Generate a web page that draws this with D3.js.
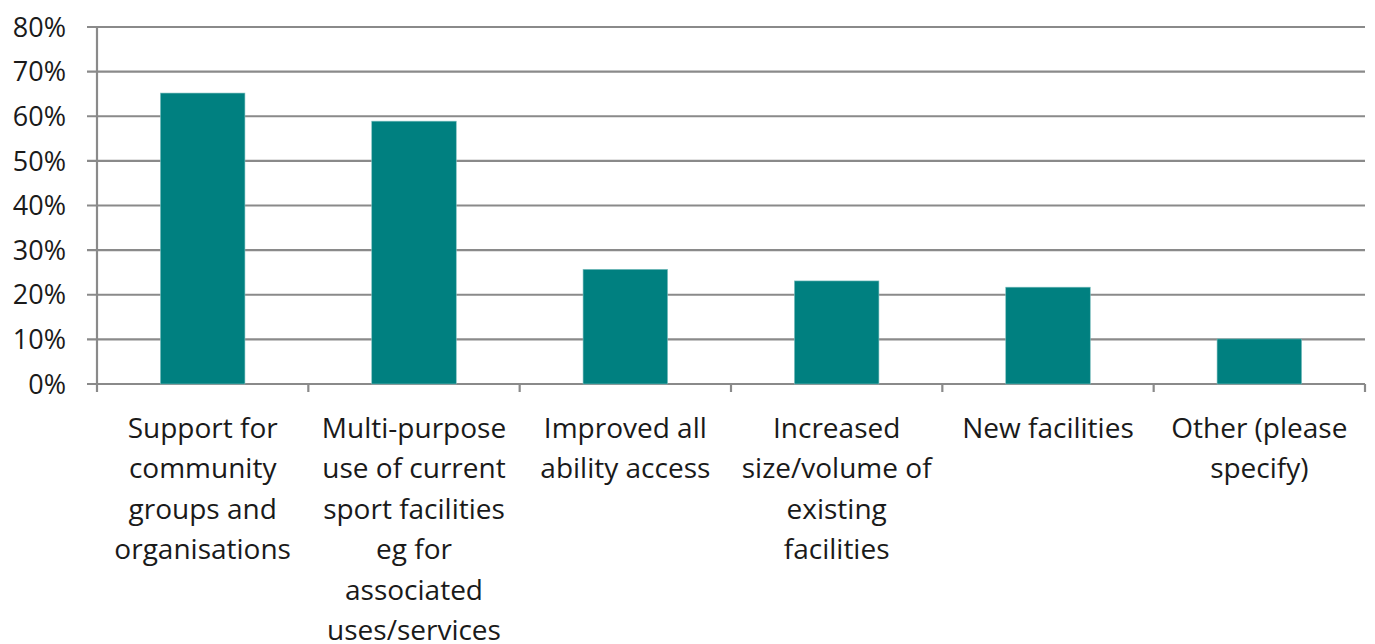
<!DOCTYPE html>
<html><head><meta charset="utf-8">
<script src="https://cdn.jsdelivr.net/npm/d3@7"></script>
<style>html,body{margin:0;padding:0;background:#fff;}svg{display:block;}</style>
</head><body>
<svg id="chart" width="1375" height="644"></svg>
<script>
const categories = [
  ["Support for","community","groups and","organisations"],
  ["Multi-purpose","use of current","sport facilities","eg for","associated","uses/services"],
  ["Improved all","ability access"],
  ["Increased","size/volume of","existing","facilities"],
  ["New facilities"],
  ["Other (please","specify)"]
];
const values = [0.652, 0.589, 0.257, 0.231, 0.217, 0.101];
const yTicks = [0, 0.1, 0.2, 0.3, 0.4, 0.5, 0.6, 0.7, 0.8];

(function () {
const svg = d3.select("#chart");
const mLeft = 97, mRight = 1365, mTop = 27, mBottom = 384;
const font = "'Open Sans', sans-serif";
const gridColor = "#8a8a8a";

const x = d3.scaleBand().domain(d3.range(categories.length)).range([mLeft, mRight])
  .paddingInner(0.6).paddingOuter(0.3);
const y = d3.scaleLinear().domain([0, 0.8]).range([mBottom, mTop]);

svg.append("g").selectAll("line").data(yTicks).join("line")
  .attr("x1", mLeft - 10).attr("x2", mRight)
  .attr("y1", d => y(d)).attr("y2", d => y(d))
  .attr("stroke", gridColor).attr("stroke-width", 2.2);

svg.append("line").attr("x1", mLeft).attr("x2", mLeft).attr("y1", y(0.8)).attr("y2", mBottom + 8)
  .attr("stroke", gridColor).attr("stroke-width", 2.2);

const step = x.step();
const bounds = d3.range(categories.length + 1).map(i => mLeft + i * step);
svg.append("g").selectAll("line").data(bounds.slice(1)).join("line")
  .attr("x1", d => d).attr("x2", d => d).attr("y1", mBottom).attr("y2", mBottom + 8)
  .attr("stroke", gridColor).attr("stroke-width", 2.2);

svg.append("g").selectAll("text").data(yTicks).join("text")
  .attr("x", 66).attr("y", d => y(d)).attr("dy", "0.36em")
  .attr("text-anchor", "end").attr("font-family", font).attr("font-size", 27)
  .attr("fill", "#1a1a1a").text(d => d3.format(".0%")(d));

svg.append("g").selectAll("rect").data(values).join("rect")
  .attr("x", (d, i) => x(i)).attr("width", x.bandwidth())
  .attr("y", d => y(d)).attr("height", d => mBottom - y(d))
  .attr("fill", "#008080").attr("stroke", "#7fc0c0").attr("stroke-width", 0.6);

const lab = svg.append("g").selectAll("text").data(categories).join("text")
  .attr("text-anchor", "middle").attr("font-family", font).attr("font-size", 28)
  .attr("fill", "#1a1a1a");
lab.each(function(lines, i) {
  const t = d3.select(this);
  lines.forEach((ln, j) => {
    t.append("tspan").attr("x", x(i) + x.bandwidth() / 2).attr("y", 438 + j * 40.4).text(ln);
  });
});
})();
</script>
</body></html>
